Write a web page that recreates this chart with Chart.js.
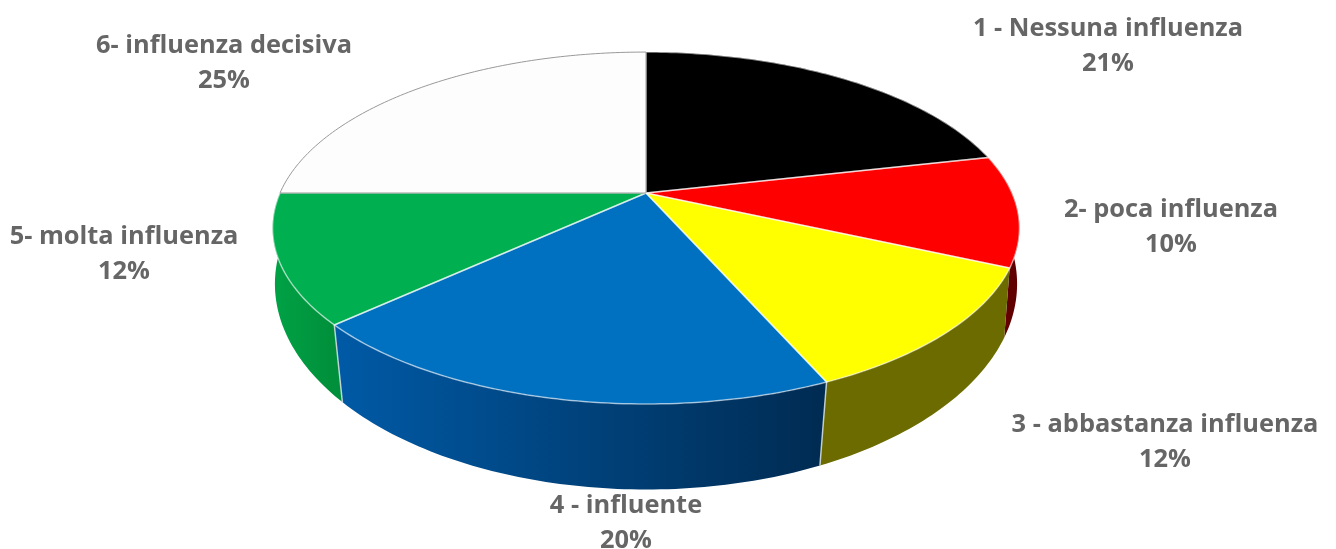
<!DOCTYPE html>
<html>
<head>
<meta charset="utf-8">
<title>Influenza</title>
<script src="https://cdn.jsdelivr.net/npm/chart.js@4"></script>
<style>
    html, body { margin: 0; background: #fff; }
    canvas { display: block; }
</style>
</head>
<body>
<canvas id="grafico" width="1336" height="549"></canvas>
<script>
const categories = ['1 - Nessuna influenza', '2- poca influenza', '3 - abbastanza influenza', '4 - influente', '5- molta influenza', '6- influenza decisiva'];
const values = [21.49, 10.2, 11.7, 19.8, 11.81, 25];
const percentLabels = ['21%', '10%', '12%', '20%', '12%', '25%'];

const topColors = ['#000000', '#ff0000', '#ffff00', '#0070c0', '#00b050', '#fdfdfd'];
const wallFrom = ['#000000', '#8a0000', '#6b6b00', '#005aa6', '#00a045', '#dddddd'];
const wallTo = ['#000000', '#600000', '#6b6b00', '#002b52', '#008f3a', '#dddddd'];

// centro delle etichette (x, y della prima riga)
const labelPos = [[1108, 29], [1171, 210], [1165, 425], [626, 506], [124, 237], [224, 46]];

// prospettiva: il cerchio superiore e quello inferiore della torta
const topRim = { cx: 646, cy: 193, a: 366, b: 169, k: 0.199 };
const bottomRim = { cx: 646, cy: 250, a: 366, b: 200, k: 0.165 };

function project(rim, angle) {
    const u = Math.cos(angle);
    const v = Math.sin(angle);
    const w = 1 - rim.k * v;
    return { x: rim.cx + rim.a * u / w, y: rim.cy + rim.b * v / w };
}

function rimPoints(rim, start, end) {
    const points = [];
    const steps = Math.max(2, Math.ceil((end - start) * 60));
    for (let i = 0; i <= steps; i++) {
        points.push(project(rim, start + (end - start) * i / steps));
    }
    return points;
}

function tracePoints(ctx, points) {
    points.forEach(function (p, i) {
        if (i === 0) ctx.moveTo(p.x, p.y);
        else ctx.lineTo(p.x, p.y);
    });
}

// le pareti sfumano da sinistra a destra
function wallGradient(ctx, i, first, last) {
    const gradient = ctx.createLinearGradient(Math.min(first.x, last.x), 0, Math.max(first.x, last.x), 0);
    gradient.addColorStop(0, wallFrom[i]);
    gradient.addColorStop(1, wallTo[i]);
    return gradient;
}

const pie3d = {
    id: 'pie3d',
    beforeDatasetsDraw(chart) {
        const ctx = chart.ctx;
        const arcs = chart.getDatasetMeta(0).data;
        ctx.save();
        ctx.lineJoin = 'round';

        // pareti laterali
        arcs.forEach(function (arc, i) {
            const top = rimPoints(topRim, arc.startAngle, arc.endAngle);
            const bottom = rimPoints(bottomRim, arc.startAngle, arc.endAngle).reverse();
            ctx.beginPath();
            tracePoints(ctx, top.concat(bottom));
            ctx.closePath();
            ctx.fillStyle = wallGradient(ctx, i, top[0], top[top.length - 1]);
            ctx.fill();
        });

        // spigoli verticali tra le pareti
        arcs.forEach(function (arc) {
            const angle = arc.endAngle;
            if (Math.sin(angle) < 0.5) return;
            const a = project(topRim, angle);
            const b = project(bottomRim, angle);
            ctx.beginPath();
            ctx.moveTo(a.x, a.y);
            ctx.lineTo(b.x, b.y);
            ctx.strokeStyle = 'rgba(215, 225, 225, 0.85)';
            ctx.lineWidth = 1.5;
            ctx.stroke();
        });

        // faccia superiore
        const center = { x: topRim.cx, y: topRim.cy };
        arcs.forEach(function (arc, i) {
            ctx.beginPath();
            tracePoints(ctx, [center].concat(rimPoints(topRim, arc.startAngle, arc.endAngle)));
            ctx.closePath();
            ctx.fillStyle = topColors[i];
            ctx.fill();
        });
        arcs.forEach(function (arc, i) {
            ctx.beginPath();
            tracePoints(ctx, [center].concat(rimPoints(topRim, arc.startAngle, arc.endAngle)));
            ctx.closePath();
            ctx.strokeStyle = i === 5 ? '#9a9a9a' : 'rgba(255, 255, 255, 0.55)';
            ctx.lineWidth = i === 5 ? 1 : 1.5;
            ctx.stroke();
        });

        ctx.restore();
        return false;
    },
    afterDraw(chart) {
        const ctx = chart.ctx;
        ctx.save();
        ctx.font = 'bold 25.4px "Open Sans"';
        ctx.fillStyle = '#666666';
        ctx.textAlign = 'center';
        ctx.textBaseline = 'middle';
        categories.forEach(function (name, i) {
            ctx.fillText(name, labelPos[i][0], labelPos[i][1]);
            ctx.fillText(percentLabels[i], labelPos[i][0], labelPos[i][1] + 35);
        });
        ctx.restore();
    }
};

new Chart(document.getElementById('grafico').getContext('2d'), {
    type: 'pie',
    data: {
        labels: categories,
        datasets: [{ data: values, backgroundColor: topColors }]
    },
    options: {
        responsive: false,
        animation: false,
        plugins: {
            legend: { display: false },
            tooltip: { enabled: false }
        }
    },
    plugins: [pie3d]
});
</script>
</body>
</html>
